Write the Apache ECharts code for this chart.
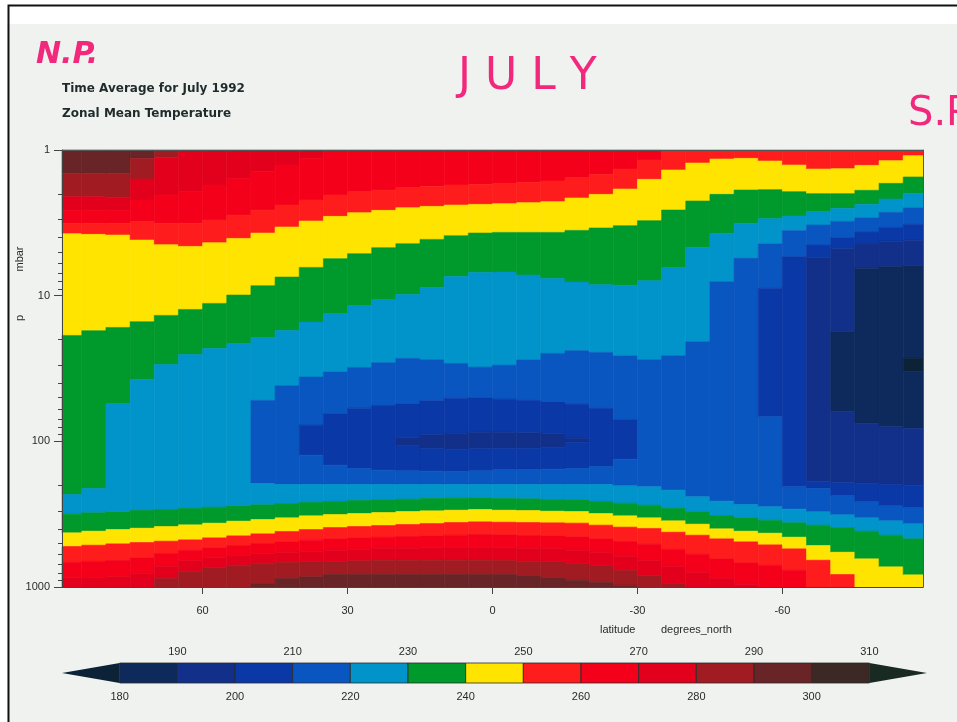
<!DOCTYPE html>
<html>
<head>
<meta charset="utf-8">
<script src="https://cdn.jsdelivr.net/npm/echarts@6/dist/echarts.min.js"></script>
</head>
<body style="margin:0; background:#fff">
<div id="main" style="width:957px;height:722px"></div>
<script>
// centre latitude of each 5 degree column, north pole on the left
var latitudes = [87.5, 82.5, 77.5, 72.5, 67.5, 62.5, 57.5, 52.5, 47.5, 42.5, 37.5, 32.5,
    27.5, 22.5, 17.5, 12.5, 7.5, 2.5, -2.5, -7.5, -12.5, -17.5, -22.5, -27.5,
    -32.5, -37.5, -42.5, -47.5, -52.5, -57.5, -62.5, -67.5, -72.5, -77.5, -82.5, -87.5];

// each column from 1 mbar downwards: [pressure where the band ends (mbar), band temperature (K)]
var columns = [
    [[1.447,295],[2.092,285],[2.584,275],[3.189,265],[3.755,255],[18.75,245],[231.7,235],[316.2,225],[424.8,235],[527.4,245],[675.6,255],[865.5,265],[1000,275]],
    [[1.447,295],[2.092,285],[2.584,275],[3.189,265],[3.795,255],[17.41,245],[210.7,235],[309.6,225],[413.8,235],[516.4,245],[665.0,255],[861.0,265],[1000,275]],
    [[1.447,295],[2.11,285],[2.584,275],[3.189,265],[3.836,255],[16.52,245],[55.24,235],[304.8,225],[403.0,235],[505.6,245],[658.1,255],[851.9,265],[1000,275]],
    [[1.141,295],[1.582,285],[2.205,275],[3.106,265],[4.152,255],[15.10,245],[37.59,235],[298.4,225],[394.7,235],[495.0,245],[630.8,255],[803.8,265],[1000,275]],
    [[1.129,285],[2.038,275],[3.189,265],[4.469,255],[13.66,245],[29.66,235],[293.8,225],[384.4,235],[484.7,245],[589.1,255],[719.8,265],[874.8,275],[1000,285]],
    [[1.933,275],[3.189,265],[4.588,255],[12.43,245],[25.32,235],[289.1,225],[374.4,235],[474.6,245],[558.9,255],[661.5,265],[778.9,275],[1000,285]],
    [[1.739,275],[3.025,265],[4.331,255],[11.30,245],[23.02,235],[283.1,225],[364.6,235],[459.8,245],[538.6,255],[630.8,265],[738.8,275],[1000,285]],
    [[1.565,275],[2.796,265],[4.044,255],[9.906,245],[21.28,235],[277.3,225],[353.3,235],[445.6,245],[519.1,255],[608.0,265],[708.5,275],[1000,285]],
    [[1.409,275],[2.584,265],[3.717,255],[8.547,245],[19.45,235],[52.40,225],[194.7,215],[272.9,225],[344.1,235],[431.6,245],[502.9,255],[589.1,265],[686.4,275],[946.6,285],[1000,295]],
    [[1.268,275],[2.387,265],[3.379,255],[7.455,245],[17.32,235],[41.56,225],[197.8,215],[267.2,225],[335.1,235],[415.9,245],[489.8,255],[576.8,265],[679.2,275],[874.8,285],[1000,295]],
    [[1.141,275],[2.205,265],[3.073,255],[6.396,245],[15.18,235],[36.24,225],[77.38,215],[124.4,205],[197.8,215],[262.9,225],[324.7,235],[403.0,245],[477.1,255],[567.8,265],[672.1,275],[851.9,285],[1000,295]],
    [[2.038,265],[2.855,255],[5.577,245],[13.31,235],[33.47,225],[64.70,215],[145.7,205],[197.8,215],[258.8,225],[318.0,235],[390.5,245],[467.2,255],[558.9,265],[668.5,275],[820.9,285],[1000,295]],
    [[1.933,265],[2.694,255],[5.152,245],[11.73,235],[31.10,225],[59.16,215],[153.6,205],[197.8,215],[254.8,225],[313.0,235],[384.4,245],[459.8,255],[553.0,265],[661.5,275],[820.9,285],[1000,295]],
    [[1.883,265],[2.597,255],[4.686,245],[10.66,235],[28.88,225],[56.72,215],[157.7,205],[197.8,215],[252.1,225],[308.1,235],[378.4,245],[455.0,255],[544.3,265],[654.6,275],[820.9,285],[1000,295]],
    [[1.814,265],[2.490,255],[4.400,245],[9.80,235],[26.97,225],[55.24,215],[94.56,205],[107.3,195],[159.4,205],[197.8,215],[249.5,225],[303.3,235],[372.4,245],[450.2,255],[541.4,265],[654.6,275],[820.9,285],[1000,295]],
    [[1.776,265],[2.438,255],[4.108,245],[8.77,235],[27.54,225],[52.68,215],[90.19,205],[111.9,195],[160.2,205],[197.8,215],[246.9,225],[300.1,235],[366.6,245],[445.6,255],[538.6,265],[654.6,275],[820.9,285],[1000,295]],
    [[1.739,265],[2.387,255],[3.877,245],[7.375,235],[29.19,225],[50.77,215],[88.31,205],[113.1,195],[161.1,205],[197.8,215],[245.6,225],[296.9,235],[360.8,245],[440.9,255],[535.7,265],[654.6,275],[820.9,285],[1000,295]],
    [[1.721,265],[2.362,255],[3.717,245],[6.922,235],[30.94,225],[50.23,215],[86.92,205],[112.5,195],[159.4,205],[197.8,215],[244.3,225],[293.8,235],[357.1,245],[436.3,255],[535.7,265],[654.6,275],[820.9,285],[1000,295]],
    [[1.703,265],[2.337,255],[3.678,245],[6.886,235],[29.98,225],[51.31,215],[86.92,205],[111.9,195],[156.8,205],[197.8,215],[246.9,225],[296.9,235],[358.9,245],[438.5,255],[538.6,265],[658.1,275],[820.9,285],[1000,295]],
    [[1.668,265],[2.300,255],[3.678,245],[7.222,235],[27.69,225],[52.40,215],[87.38,205],[111.4,195],[156.0,205],[197.8,215],[248.2,225],[298.4,235],[360.8,245],[443.2,255],[541.4,265],[665.0,275],[838.5,285],[1000,295]],
    [[1.633,265],[2.264,255],[3.678,245],[7.612,235],[24.92,225],[53.53,215],[88.76,205],[109.6,195],[155.2,205],[197.8,215],[250.8,225],[301.7,235],[362.6,245],[445.6,255],[547.2,265],[672.1,275],[865.5,285],[1000,295]],
    [[1.549,265],[2.136,255],[3.563,245],[8.066,235],[23.89,225],[55.53,215],[95.56,205],[101.8,195],[153.6,205],[197.8,215],[252.1,225],[303.3,235],[364.6,245],[452.6,255],[558.9,265],[693.7,275],[898.1,285],[1000,295]],
    [[1.470,265],[2.016,255],[3.433,245],[8.413,235],[24.53,225],[59.47,215],[148.8,205],[197.8,215],[258.8,225],[313.0,235],[376.3,245],[467.2,255],[576.8,265],[716.1,275],[931.7,285],[1000,295]],
    [[1.351,265],[1.853,255],[3.309,245],[8.502,235],[25.98,225],[71.51,215],[132.6,205],[202.0,215],[265.8,225],[324.7,235],[388.2,245],[487.2,255],[614.5,265],[770.7,275],[971.8,285],[1000,295]],
    [[1.171,265],[1.590,255],[3.057,245],[7.897,235],[27.54,225],[205.3,215],[274.4,225],[335.1,235],[396.4,245],[508.1,255],[654.6,265],[838.5,275],[1000,285]],
    [[1.372,255],[2.584,245],[6.430,235],[25.85,225],[216.3,215],[289.1,225],[351.4,235],[420.4,245],[550.1,255],[719.8,265],[946.6,275],[1000,285]],
    [[1.228,255],[2.240,245],[4.661,235],[20.72,225],[240.4,215],[304.8,225],[370.4,235],[440.9,245],[595.3,255],[799.6,265],[1000,275]],
    [[1.153,255],[2.016,245],[3.735,235],[8.023,225],[257.5,215],[323.0,225],[398.7,235],[467.2,245],[641.0,255],[874.8,265],[1000,275]],
    [[1.141,255],[1.883,245],[3.189,235],[5.546,225],[271.4,215],[335.1,225],[413.8,235],[489.8,245],[682.8,255],[956.8,265],[1000,275]],
    [[1.190,255],[1.873,245],[2.962,235],[4.422,225],[8.915,215],[67.84,205],[281.6,215],[349.5,225],[427.1,235],[513.7,245],[708.5,255],[1000,265]],
    [[1.268,255],[1.933,245],[2.840,235],[3.581,225],[5.402,215],[205.3,205],[292.2,215],[362.6,225],[455.0,235],[547.2,245],[766.6,255],[1000,265]],
    [[1.351,255],[1.995,245],[2.651,235],[3.274,225],[4.493,215],[5.488,205],[189.6,195],[210.7,205],[304.8,215],[376.3,225],[519.1,235],[654.6,245],[1000,255]],
    [[1.344,255],[1.995,245],[2.516,235],[3.090,225],[4.000,215],[4.760,205],[17.69,195],[62.69,185],[192.6,195],[236.6,205],[319.6,215],[390.5,225],[576.8,235],[820.9,245],[1000,255]],
    [[1.275,255],[1.892,245],[2.362,235],[2.931,225],[3.658,215],[4.422,205],[6.497,195],[75.39,185],[194.7,195],[260.2,205],[335.1,215],[413.8,225],[641.0,235],[1000,245]],
    [[1.184,255],[1.694,245],[2.170,235],[2.681,225],[3.397,215],[4.240,205],[6.329,195],[79.46,185],[197.8,195],[277.3,205],[351.4,215],[440.9,225],[727.3,235],[1000,245]],
    [[1.094,255],[1.532,245],[1.984,235],[2.502,225],[3.239,215],[4.173,205],[6.229,195],[26.97,185],[33.30,175],[81.57,185],[199.9,195],[286.1,205],[368.5,215],[467.2,225],[825.4,235],[1000,245]]
];

// contour levels and fill colours (below first level, each interval, above last level)
var levels = [180, 190, 200, 210, 220, 230, 240, 250, 260, 270, 280, 290, 300, 310];
var bandColors = ['#0c2236', '#0e2a5c', '#12308a', '#0a38a6', '#0a56c0', '#0094ca', '#00992c', '#ffe400',
    '#ff1c1c', '#f5001a', '#e2001c', '#a01c22', '#682426', '#3c2824', '#182a22'];
var keyLabelsLow = [180, 200, 220, 240, 260, 280, 300];
var keyLabelsHigh = [190, 210, 230, 250, 270, 290, 310];
var latTicks = [60, 30, 0, -30, -60];
var pTicks = [1, 10, 100, 1000];
var pMinorTicks = [2, 3, 4, 5, 6, 7, 8, 9, 20, 30, 40, 50, 60, 70, 80, 90, 200, 300, 400, 500, 600, 700, 800, 900];

var cells = [];
columns.forEach(function (col, i) {
    var top = 1;
    col.forEach(function (seg) {
        cells.push([latitudes[i], top, seg[0], seg[1]]);
        top = seg[0];
    });
});

// colour key boxes, with an arrow on each end
var keyItems = [[170, levels[0], 175]];
for (var i = 0; i < levels.length - 1; i++) {
    keyItems.push([levels[i], levels[i + 1], levels[i] + 5]);
}
keyItems.push([levels[levels.length - 1], 320, 315]);

var pieces = [{ lt: levels[0], color: bandColors[0] }];
for (var j = 0; j < levels.length - 1; j++) {
    pieces.push({ gte: levels[j], lt: levels[j + 1], color: bandColors[j + 1] });
}
pieces.push({ gte: levels[levels.length - 1], color: bandColors[bandColors.length - 1] });

function renderCell(params, api) {
    var lat = api.value(0);
    var a = api.coord([lat + 2.5, api.value(1)]);
    var b = api.coord([lat - 2.5, api.value(2)]);
    var cs = params.coordSys;
    var rect = echarts.graphic.clipRectByRect(
        { x: a[0], y: a[1], width: b[0] - a[0], height: b[1] - a[1] },
        { x: cs.x, y: cs.y, width: cs.width, height: cs.height });
    if (!rect) return;
    var color = api.visual('color');
    return {
        type: 'rect',
        shape: rect,
        style: { fill: color, stroke: color, lineWidth: 0.6 }
    };
}

function renderKey(params, api) {
    var lo = api.value(0), hi = api.value(1);
    var a = api.coord([lo, 1]);
    var b = api.coord([hi, 0]);
    var color = api.visual('color');
    var mid = (a[1] + b[1]) / 2;
    if (lo < levels[0]) {
        return { type: 'polygon', shape: { points: [[a[0], mid], [b[0], a[1]], [b[0], b[1]]] }, style: { fill: color } };
    }
    if (hi > levels[levels.length - 1]) {
        return { type: 'polygon', shape: { points: [[a[0], a[1]], [a[0], b[1]], [b[0], mid]] }, style: { fill: color } };
    }
    return {
        type: 'rect',
        shape: { x: a[0], y: a[1], width: b[0] - a[0], height: b[1] - a[1] },
        style: { fill: color, stroke: '#2a2a2a', lineWidth: 0.8 }
    };
}

var labelFont = { fontFamily: 'Liberation Sans', fontSize: 11, color: '#2a2a2a' };
var plain = function (v) { return String(v); };

var chart = echarts.init(document.getElementById('main'));
var option = {
    backgroundColor: '#ffffff',
    animation: false,
    grid: [
        { left: 62, top: 150, width: 861, height: 437 },
        { left: 62, top: 663, width: 865, height: 20 }
    ],
    visualMap: [
        { type: 'piecewise', show: false, seriesIndex: 0, dimension: 3, pieces: pieces },
        { type: 'piecewise', show: false, seriesIndex: 1, dimension: 2, pieces: pieces }
    ],
    xAxis: [
        {
            type: 'value', gridIndex: 0, min: -89.1, max: 89.1, inverse: true, z: 10,
            axisLine: { onZero: false, lineStyle: { color: '#444', width: 1 } },
            axisTick: { customValues: latTicks, length: 7, lineStyle: { color: '#444' } },
            axisLabel: Object.assign({ customValues: latTicks, margin: 18, formatter: plain }, labelFont),
            splitLine: { show: false }
        },
        {
            type: 'value', gridIndex: 0, position: 'top', min: -89.1, max: 89.1, inverse: true, z: 10,
            axisLine: { onZero: false, lineStyle: { color: '#555', width: 1 } },
            axisTick: { show: false }, axisLabel: { show: false }, splitLine: { show: false }
        },
        {
            type: 'value', gridIndex: 1, min: 170, max: 320,
            axisLine: { show: false }, axisTick: { show: false }, splitLine: { show: false },
            axisLabel: Object.assign({ customValues: keyLabelsLow, margin: 8, formatter: plain }, labelFont)
        },
        {
            type: 'value', gridIndex: 1, position: 'top', min: 170, max: 320,
            axisLine: { show: false }, axisTick: { show: false }, splitLine: { show: false },
            axisLabel: Object.assign({ customValues: keyLabelsHigh, margin: 6, formatter: plain }, labelFont)
        }
    ],
    yAxis: [
        {
            type: 'log', gridIndex: 0, position: 'left', min: 1, max: 1000, inverse: true, z: 10,
            axisLine: { onZero: false, lineStyle: { color: '#444', width: 1 } },
            axisTick: { customValues: pTicks, length: 8, lineStyle: { color: '#444' } },
            axisLabel: Object.assign({ customValues: pTicks, margin: 12, formatter: plain }, labelFont),
            splitLine: { show: false }
        },
        {
            type: 'log', gridIndex: 0, position: 'left', min: 1, max: 1000, inverse: true, z: 10,
            axisLine: { show: false, onZero: false },
            axisTick: { customValues: pMinorTicks, length: 4, lineStyle: { color: '#444' } },
            axisLabel: { show: false }, splitLine: { show: false }
        },
        {
            type: 'log', gridIndex: 0, position: 'right', min: 1, max: 1000, inverse: true, z: 10,
            axisLine: { onZero: false, lineStyle: { color: '#555', width: 1 } },
            axisTick: { show: false }, axisLabel: { show: false }, splitLine: { show: false }
        },
        { type: 'value', gridIndex: 1, min: 0, max: 1, show: false }
    ],
    graphic: [
        // scanned sheet: light grey paper under a white top strip, black frame on the left and top
        { type: 'rect', z: -10, left: 7, top: 24, shape: { width: 960, height: 710 }, style: { fill: '#f0f2f0' } },
        { type: 'rect', left: 6, top: 3, shape: { width: 960, height: 730 }, style: { fill: null, stroke: '#111', lineWidth: 2 } },
        { type: 'text', left: 62, top: 83, style: { text: 'Time Average for July 1992', font: 'bold 12px "DejaVu Sans"', fill: '#1f2b2b' } },
        { type: 'text', left: 62, top: 108, style: { text: 'Zonal Mean Temperature', font: 'bold 12px "DejaVu Sans"', fill: '#1f2b2b' } },
        { type: 'text', x: 20, y: 318, rotation: Math.PI / 2, style: { text: 'p', font: '11px "Liberation Sans"', fill: '#2a2a2a', align: 'center', verticalAlign: 'middle' } },
        { type: 'text', x: 20, y: 259, rotation: Math.PI / 2, style: { text: 'mbar', font: '11px "Liberation Sans"', fill: '#2a2a2a', align: 'center', verticalAlign: 'middle' } },
        { type: 'text', left: 600, top: 624, style: { text: 'latitude', font: '11px "Liberation Sans"', fill: '#2a2a2a' } },
        { type: 'text', left: 661, top: 624, style: { text: 'degrees_north', font: '11px "Liberation Sans"', fill: '#2a2a2a' } },
        { type: 'text', left: 36, top: 40, style: { text: 'N.P.', font: 'italic bold 30px "DejaVu Sans"', fill: '#f2287c' } },
        { type: 'text', left: 458, top: 56, style: { text: 'J U L Y', font: '44px "DejaVu Sans"', fill: '#f2287c' } },
        { type: 'text', left: 908, top: 95, style: { text: 'S.P', font: '40px "DejaVu Sans"', fill: '#f2287c' } }
    ],
    series: [
        {
            type: 'custom', xAxisIndex: 0, yAxisIndex: 0, renderItem: renderCell,
            data: cells, silent: true
        },
        {
            type: 'custom', xAxisIndex: 2, yAxisIndex: 3, renderItem: renderKey,
            data: keyItems, silent: true
        }
    ]
};
chart.setOption(option);
</script>
</body>
</html>
